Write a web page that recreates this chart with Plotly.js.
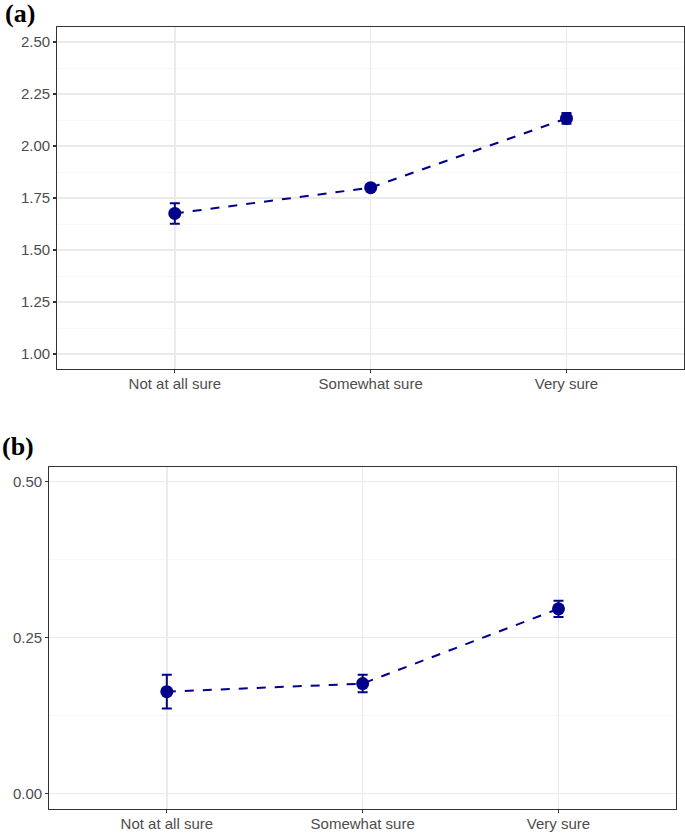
<!DOCTYPE html>
<html>
<head>
<meta charset="utf-8">
<script src="https://cdn.plot.ly/plotly-3.0.1.min.js"></script>
<style>html,body{margin:0;padding:0;background:#fff;}#chart{width:685px;height:833px;}</style>
</head>
<body>
<div id="chart"></div>
<script>
const categories = ["Not at all sure", "Somewhat sure", "Very sure"];
const valuesA = [1.676, 1.800, 2.133];
const errorsA = [0.049, 0.012, 0.026];
const valuesB = [0.163, 0.176, 0.296];
const errorsB = [0.027, 0.014, 0.013];
const yTicksA = [1.00, 1.25, 1.50, 1.75, 2.00, 2.25, 2.50];
const yTicksB = [0.00, 0.25, 0.50];

const navy = "#00008B";
function trace(vals, errs, xa, ya) {
  return {
    x: categories, y: vals, xaxis: xa, yaxis: ya,
    type: "scatter", mode: "lines+markers",
    line: {color: navy, width: 2, dash: "dash"},
    marker: {color: navy, size: 13},
    error_y: {type: "data", array: errs, visible: true, color: navy, thickness: 2, width: 5},
    showlegend: false, hoverinfo: "skip"
  };
}
const tickFont = {family: "Liberation Sans, Arial, sans-serif", size: 15, color: "#4d4d4d"};
function xax(domain) {
  return {
    domain: domain, type: "category", range: [-0.6, 2.6],
    showline: true, mirror: true, linecolor: "#333333", linewidth: 1.2,
    ticks: "outside", ticklen: 3, tickcolor: "#333333", tickwidth: 1.2,
    ticklabelstandoff: -2,
    showgrid: true, gridcolor: "#ebebeb", gridwidth: 1.5,
    tickfont: tickFont, zeroline: false, fixedrange: true
  };
}
function yax(domain, range, ticks, anchor) {
  return {
    domain: domain, range: range, anchor: anchor,
    tickvals: ticks, ticktext: ticks.map(v => v.toFixed(2)),
    showline: true, mirror: true, linecolor: "#333333", linewidth: 1.2,
    ticks: "outside", ticklen: 3, tickcolor: "#333333", tickwidth: 1.2,
    showgrid: true, gridcolor: "#ebebeb", gridwidth: 1.5,
    minor: {dtick: 0.125, tick0: 0, showgrid: true, gridcolor: "#f5f5f5", gridwidth: 0.7, ticks: ""},
    tickfont: tickFont, zeroline: false, fixedrange: true
  };
}
const data = [trace(valuesA, errorsA, "x", "y"), trace(valuesB, errorsB, "x2", "y2")];
const layout = {
  width: 685, height: 833,
  margin: {l: 0, r: 0, t: 0, b: 0},
  paper_bgcolor: "#ffffff", plot_bgcolor: "#ffffff",
  xaxis: Object.assign(xax([57.3/685, 684/685]), {anchor: "y"}),
  yaxis: yax([(833-369)/833, (833-26.7)/833], [0.928, 2.574], yTicksA, "x"),
  xaxis2: Object.assign(xax([49.3/685, 676/685]), {anchor: "y2"}),
  yaxis2: yax([(833-809)/833, (833-466.7)/833], [-0.0252, 0.524], yTicksB, "x2"),
  annotations: [
    {text: "<b>(a)</b>", xref: "paper", yref: "paper", x: 0.004, y: 1.004, xanchor: "left", yanchor: "top",
     showarrow: false, font: {family: "Liberation Serif, Times New Roman, serif", size: 26, color: "#000"}},
    {text: "<b>(b)</b>", xref: "paper", yref: "paper", x: 0.0, y: (833-430)/833, xanchor: "left", yanchor: "top",
     showarrow: false, font: {family: "Liberation Serif, Times New Roman, serif", size: 26, color: "#000"}}
  ]
};
Plotly.newPlot("chart", data, layout, {displayModeBar: false, staticPlot: true});
</script>
</body>
</html>
